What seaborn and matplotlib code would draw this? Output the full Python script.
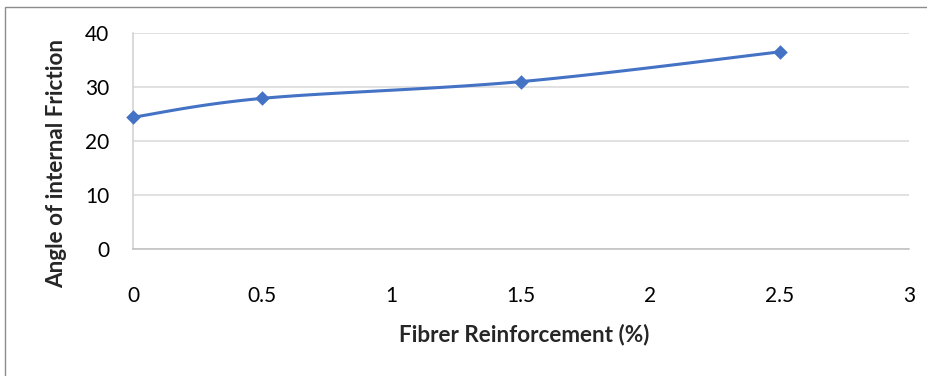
import numpy as np
import pandas as pd
import matplotlib
matplotlib.use("Agg")
import matplotlib.pyplot as plt
import seaborn as sns
from matplotlib.patches import Rectangle

# Data
fibre_pct = [0, 0.5, 1.5, 2.5]
friction_angle = [24.4, 27.9, 31.0, 36.5]
x_ticks = [0, 0.5, 1, 1.5, 2, 2.5, 3]
y_ticks = [0, 10, 20, 30, 40]


def smooth_path(xs, ys, n=40):
    """Excel-style smoothed line: cubic Bezier segments with Catmull-Rom control points."""
    xs = np.asarray(xs, float)
    ys = np.asarray(ys, float)
    px, py = [], []
    m = len(xs)
    for i in range(m - 1):
        x0, y0 = (xs[i - 1], ys[i - 1]) if i > 0 else (xs[i], ys[i])
        x1, y1 = xs[i], ys[i]
        x2, y2 = xs[i + 1], ys[i + 1]
        x3, y3 = (xs[i + 2], ys[i + 2]) if i + 2 < m else (x2, y2)
        c1x, c1y = x1 + (x2 - x0) / 6, y1 + (y2 - y0) / 6
        c2x, c2y = x2 - (x3 - x1) / 6, y2 - (y3 - y1) / 6
        t = np.linspace(0, 1, n, endpoint=(i == m - 2))
        b0, b1, b2, b3 = (1 - t) ** 3, 3 * (1 - t) ** 2 * t, 3 * (1 - t) * t ** 2, t ** 3
        px.extend(b0 * x1 + b1 * c1x + b2 * c2x + b3 * x2)
        py.extend(b0 * y1 + b1 * c1y + b2 * c2y + b3 * y2)
    return np.array(px), np.array(py)


sns.set_theme(style="white")
plt.rcParams["font.family"] = ["Lato", "DejaVu Sans"]

fig = plt.figure(figsize=(9.28, 3.76), dpi=100)
ax = fig.add_axes([133 / 928, 1 - 249 / 376, (909 - 133) / 928, (249 - 33) / 376])

blue = "#4472C4"
sx, sy = smooth_path(fibre_pct, friction_angle)
curve = pd.DataFrame({"x": sx, "y": sy})
pts = pd.DataFrame({"x": fibre_pct, "y": friction_angle})

sns.lineplot(data=curve, x="x", y="y", ax=ax, color=blue, linewidth=2.2,
             sort=False, estimator=None, zorder=3)
sns.scatterplot(data=pts, x="x", y="y", ax=ax, color=blue, marker="D", s=55,
                edgecolor=blue, linewidth=0, zorder=4, clip_on=False)

ax.set_xlim(0, 3)
ax.set_ylim(0, 40)
ax.set_xticks(x_ticks)
ax.set_xticklabels([f"{v:g}" for v in x_ticks])
ax.set_yticks(y_ticks)
ax.set_yticklabels([str(v) for v in y_ticks])

ax.grid(axis="y", color="#D9D9D9", linewidth=1.1)
ax.grid(axis="x", visible=False)
for side in ["top", "right"]:
    ax.spines[side].set_visible(False)
ax.spines["bottom"].set_color("#BFBFBF")
ax.spines["left"].set_color("#D0D0D0")
ax.spines["bottom"].set_linewidth(1.1)
ax.spines["left"].set_linewidth(1.1)

ax.tick_params(axis="both", length=0, labelsize=15, colors="#000000")
ax.tick_params(axis="x", pad=27)
ax.tick_params(axis="y", pad=17)

ax.set_xlabel("")
ax.set_ylabel("")
fig.text(524 / 928, 1 - 335 / 376, "Fibrer Reinforcement (%)", ha="center", va="center",
         fontsize=16.2, fontweight="bold")
fig.text(57 / 928, 1 - 164 / 376, "Angle of internal Friction", ha="center", va="center",
         rotation=90, fontsize=16.2, fontweight="bold")

# Chart frame
fig.patches.append(Rectangle((5.5 / 928, -0.2), 1.2, 1 - 6.5 / 376 + 0.2,
                             transform=fig.transFigure, fill=False,
                             edgecolor="#8C8C8C", linewidth=1.0))

fig.savefig("out.png", dpi=100)
